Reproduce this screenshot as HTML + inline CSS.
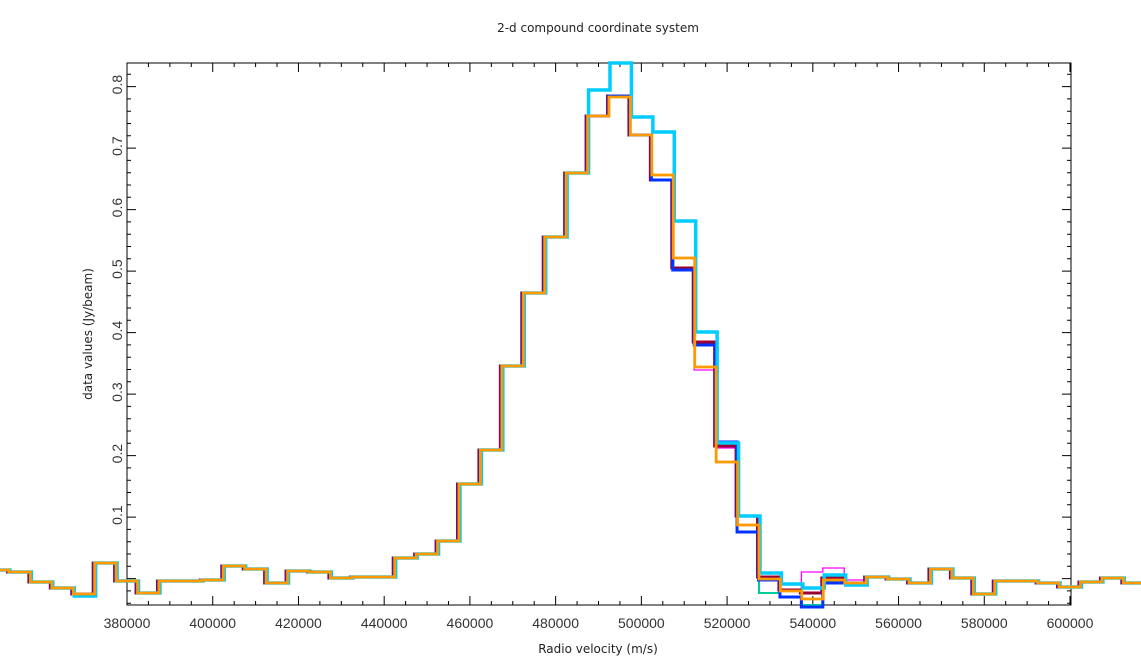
<!DOCTYPE html>
<html><head><meta charset="utf-8"><style>
html,body{margin:0;padding:0;background:#fff;}
svg{display:block;font-family:"DejaVu Sans","Liberation Sans",sans-serif;}
</style></head><body>
<svg id="s" width="1141" height="670" viewBox="0 0 1141 670" xmlns="http://www.w3.org/2000/svg">
<rect width="1141" height="670" fill="#fff"/>
<text x="598" y="32" font-size="12" text-anchor="middle" fill="#222">2-d compound coordinate system</text>
<text x="598" y="653" font-size="12" text-anchor="middle" fill="#222">Radio velocity (m/s)</text>
<text transform="translate(92,334) rotate(-90)" font-size="12" text-anchor="middle" fill="#222">data values (Jy/beam)</text>
<g id="ax"></g>
<g id="ser"></g>
</svg>
<script>
var NS="http://www.w3.org/2000/svg";
function el(t,a,p,txt){var e=document.createElementNS(NS,t);for(var k in a)e.setAttribute(k,a[k]);if(txt)e.textContent=txt;p.appendChild(e);return e;}
var ax=document.getElementById('ax'),ser=document.getElementById('ser');
var L=127,R=1071,T=63,B=605;
function X(v){return L+(v-380000)*943/220000;}
function Y(d){return 578.6-d*615;}
var d="";
for(var v=375000;v<=615000;v+=5000){var x=X(v);if(x<L-0.5||x>R+0.5)continue;var maj=(v%20000==0);var len=maj?9:4;
 d+="M"+x+" "+B+"v-"+len+"M"+x+" "+T+"v"+len;
 if(maj)el('text',{x:x,y:628,'font-size':14,'font-family':'Liberation Sans, sans-serif','text-anchor':'middle',fill:'#333'},ax,String(v));}
for(var i=-4;i<=42;i++){var val=i*0.02;var y=Y(val);if(y<T-0.5||y>B+0.5)continue;var maj=(i%5==0);var len=maj?9:4;
 d+="M"+L+" "+y+"h"+len+"M"+R+" "+y+"h-"+len;
 if(maj&&i>0)el('text',{transform:'translate(122,'+(y-2)+') rotate(-90)','font-size':14,'font-family':'Liberation Sans, sans-serif','text-anchor':'middle',fill:'#333'},ax,(val).toFixed(1));}
el('path',{d:d,stroke:'#000','stroke-width':1,fill:'none'},ax);
el('rect',{x:L,y:T,width:R-L,height:B-T,fill:'none',stroke:'#000','stroke-width':1},ax);
var base=[570,572,582,588,594,563,581,593,581,581,580,566,569,583,571,572,578,577,577,558,554,541,484,450,366,293,237,173,116,96,135,180,268,344,446,516,577,590,594,578,583,577,579,583,569,578,594,581,581,583,587,582,578,583];
function edge(k){return 115.6+21.43*(k-6);}
function path(over,dx){var a=base.slice();for(var k in over)a[k]=over[k];var p="M"+(edge(0)+dx)+" "+a[0];
 for(var k=0;k<a.length;k++){var x1=edge(k+1)+dx;p+="H"+x1;if(k+1<a.length)p+="V"+a[k+1];}return p;}
var series=[
 [{35:525,36:593,37:597,38:605,39:582},'#00cc99',2,0.5],
 [{33:370,34:448,38:572,39:568,40:580},'#ff00ff',1.3,0],
 [{32:268,33:342,35:516,36:577,37:590,38:593},'#990033',3,-1],
 [{32:270,33:345,34:442,35:532,36:580,37:597,38:607,39:583},'#0033ff',3,0],
 [{4:596,28:90,29:63,30:117,31:132,32:221,33:332,34:443,35:516,36:573,37:584,38:588,39:575,40:585},'#00ccff',3.5,1.5],
 [{29:97,30:135,31:175,32:258,33:367,34:462,35:525,36:579,37:591,38:599,39:580},'#ff9900',2.8,0.5]
];
series.forEach(function(s){el('path',{d:path(s[0],s[3]),stroke:s[1],'stroke-width':s[2],fill:'none'},ser);});
</script>
</body></html>
